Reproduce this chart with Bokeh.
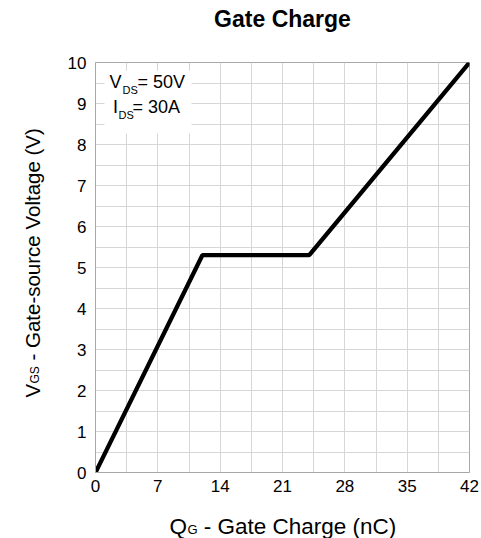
from math import pi
from bokeh.plotting import figure
from bokeh.models import Range1d, FixedTicker, Label, BoxAnnotation
from bokeh.embed import file_html
from bokeh.resources import INLINE

# ---- data ----
qg_nc = [0, 12, 24, 42]
vgs_v = [0, 5.3, 5.3, 10]
x_ticks = [0, 7, 14, 21, 28, 35, 42]
y_ticks = [0, 1, 2, 3, 4, 5, 6, 7, 8, 9, 10]

x_minor = [(a + b) / 2 for a, b in zip(x_ticks, x_ticks[1:])]
y_minor = [(a + b) / 2 for a, b in zip(y_ticks, y_ticks[1:])]

FONT = "Liberation Sans"
GRID = "#d6d6d6"
FRAME = "#a8a8a8"

p = figure(width=481, height=538,
           x_range=Range1d(x_ticks[0], x_ticks[-1]),
           y_range=Range1d(y_ticks[0], y_ticks[-1]),
           output_backend="svg", toolbar_location=None,
           min_border_left=95, min_border_right=12,
           min_border_top=62, min_border_bottom=66)

p.background_fill_color = "white"
p.border_fill_color = "white"
p.outline_line_color = FRAME
p.outline_line_width = 1

p.xaxis.ticker = FixedTicker(ticks=x_ticks, minor_ticks=x_minor)
p.yaxis.ticker = FixedTicker(ticks=y_ticks, minor_ticks=y_minor)

for ax in (p.xaxis, p.yaxis):
    ax.axis_line_color = FRAME
    ax.major_tick_out = 0
    ax.major_tick_in = 0
    ax.minor_tick_out = 0
    ax.minor_tick_in = 0
    ax.major_label_text_font = FONT
    ax.major_label_text_font_size = "17px"
    ax.major_label_text_color = "black"
p.xaxis.major_label_standoff = 7
p.yaxis.major_label_standoff = 9

for g in (p.xgrid, p.ygrid):
    g.grid_line_color = GRID
    g.minor_grid_line_color = GRID
    g.grid_line_width = 1
    g.minor_grid_line_width = 1

p.line(qg_nc, vgs_v, line_color="black", line_width=4.3)

# condition box
p.add_layout(BoxAnnotation(left=1.01, right=10.78, bottom=8.27, top=9.80,
                           fill_color="white", fill_alpha=1.0, line_alpha=0))

def lab(x, y, text, size, side=None, **kw):
    d = dict(x=x, y=y, text=text, text_font=FONT, text_font_size=size,
             text_color="black", text_baseline="middle", text_align="left")
    d.update(kw)
    if side is None:
        p.add_layout(Label(**d))
    else:
        p.add_layout(Label(**d), side)

# annotation (test conditions)
lab(1.57, 9.52, "V", "18px")
lab(3.03, 9.34, "DS", "11px")
lab(4.72, 9.52, "= 50V", "18px")
lab(1.97, 8.91, "I", "18px")
lab(2.58, 8.73, "DS", "11px")
lab(4.16, 8.91, "= 30A", "18px")

# title (in side panel so it is not clipped by the frame)
lab(21, 11.05, "Gate Charge", "23px", side="above", text_align="center",
    text_font_style="bold")

# x axis label
lab(8.31, -1.32, "Q", "22.5px", side="below")
lab(10.33, -1.40, "G", "13px", side="right")
lab(12.16, -1.32, "- Gate Charge (nC)", "22.5px", side="above")

# y axis label (rotated)
lab(-7.10, 1.83, "V", "20.5px", side="left", angle=pi / 2)
lab(-6.76, 2.17, "GS", "12px", side="left", angle=pi / 2)
lab(-7.10, 2.73, "- Gate-source Voltage (V)", "20.5px", side="left", angle=pi / 2)

open("out.html", "w").write(file_html(p, INLINE))
